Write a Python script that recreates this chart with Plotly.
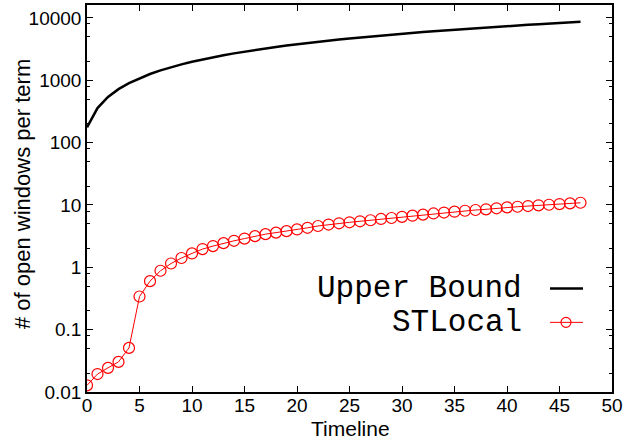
import plotly.graph_objects as go

timeline = list(range(48))
upper_bound = [176, 358, 540, 720, 900, 1080, 1260, 1440, 1620, 1800,
               1980, 2160, 2340, 2520, 2700, 2880, 3060, 3240, 3420, 3600,
               3780, 3960, 4140, 4320, 4500, 4680, 4860, 5040, 5220, 5400,
               5580, 5760, 5940, 6120, 6300, 6480, 6660, 6840, 7020, 7200,
               7380, 7560, 7740, 7920, 8100, 8280, 8460, 8640]
stlocal = [0.0128, 0.0194, 0.0244, 0.0304, 0.051, 0.34, 0.60, 0.88, 1.15, 1.41,
           1.67, 1.96, 2.19, 2.44, 2.66, 2.89, 3.16, 3.40, 3.60, 3.80,
           4.05, 4.30, 4.60, 4.85, 5.08, 5.27, 5.47, 5.68, 5.96, 6.18,
           6.45, 6.73, 7.00, 7.30, 7.55, 7.80, 8.08, 8.30, 8.51, 8.84,
           9.16, 9.36, 9.60, 9.86, 10.07, 10.33, 10.60, 10.84]
x_ticks = list(range(0, 51, 5))
y_ticks = [0.01, 0.1, 1, 10, 100, 1000, 10000]
y_tick_text = ["0.01", "0.1", "1", "10", "100", "1000", "10000"]
y_minor = [m * 10.0 ** e for e in range(-2, 5) for m in (2, 5, 8)]
legend_names = ["Upper Bound", "STLocal"]

W, H = 626, 439
ML, MR, MT, MB = 87, 14, 3, 47
PW, PH = W - ML - MR, H - MT - MB


def px(x):
    return (x - ML) / PW


def py(y):
    return (H - MB - y) / PH


fig = go.Figure()
fig.add_trace(go.Scatter(x=timeline, y=upper_bound, mode="lines",
                         line=dict(color="black", width=2.5),
                         name=legend_names[0], showlegend=False))
fig.add_trace(go.Scatter(x=timeline, y=stlocal, mode="lines+markers",
                         line=dict(color="#ff0000", width=1),
                         marker=dict(symbol="circle-open", size=11,
                                     color="#ff0000", line=dict(width=1.2)),
                         name=legend_names[1], showlegend=False))

tickfont = dict(family="Liberation Sans, Arial, sans-serif", size=19, color="black")
fig.update_xaxes(range=[0, 50], tickvals=x_ticks, ticks="inside", ticklen=6,
                 tickwidth=1, tickcolor="black", showline=True, linecolor="black",
                 linewidth=1.5, mirror="ticks", showgrid=False, zeroline=False,
                 tickfont=tickfont, ticklabelstandoff=-5)
fig.update_yaxes(type="log", range=[-2, 4.207], tickvals=y_ticks, ticktext=y_tick_text,
                 ticks="inside", ticklen=6, tickwidth=1, tickcolor="black",
                 showline=True, linecolor="black", linewidth=1.5, mirror="ticks",
                 showgrid=False, zeroline=False, tickfont=tickfont,
                 minor=dict(tickvals=y_minor, ticks="inside", ticklen=3,
                            tickcolor="black", tickwidth=1, showgrid=False))

titlefont = dict(family="Liberation Sans, Arial, sans-serif", size=22, color="black")
annotations = [
    dict(text="# of open windows per term", x=px(22), y=py(193), xref="paper",
         yref="paper", textangle=-90, showarrow=False, font=titlefont,
         xanchor="center", yanchor="middle"),
    dict(text="Timeline", x=px(350), y=py(429), xref="paper", yref="paper",
         showarrow=False, font=dict(titlefont, size=21),
         xanchor="center", yanchor="middle"),
]
legfont = dict(family="Liberation Mono, Courier New, monospace", size=31, color="black")
leg_y = [288, 322]
for name, yy in zip(legend_names, leg_y):
    annotations.append(dict(text=name, x=px(524), y=py(yy), xref="paper",
                            yref="paper", showarrow=False, font=legfont,
                            xanchor="right", yanchor="middle"))

shapes = [
    dict(type="line", xref="paper", yref="paper", x0=px(550), x1=px(583),
         y0=py(leg_y[0]), y1=py(leg_y[0]), line=dict(color="black", width=2.5)),
    dict(type="line", xref="paper", yref="paper", x0=px(550), x1=px(583),
         y0=py(leg_y[1]), y1=py(leg_y[1]), line=dict(color="#ff0000", width=1)),
    dict(type="circle", xref="paper", yref="paper", x0=px(561), x1=px(571),
         y0=py(leg_y[1] + 5), y1=py(leg_y[1] - 5),
         line=dict(color="#ff0000", width=1.2), fillcolor="rgba(0,0,0,0)"),
]

fig.update_layout(width=W, height=H, margin=dict(l=ML, r=MR, t=MT, b=MB),
                  plot_bgcolor="white", paper_bgcolor="white",
                  annotations=annotations, shapes=shapes, showlegend=False)
fig.write_html("out.html")
